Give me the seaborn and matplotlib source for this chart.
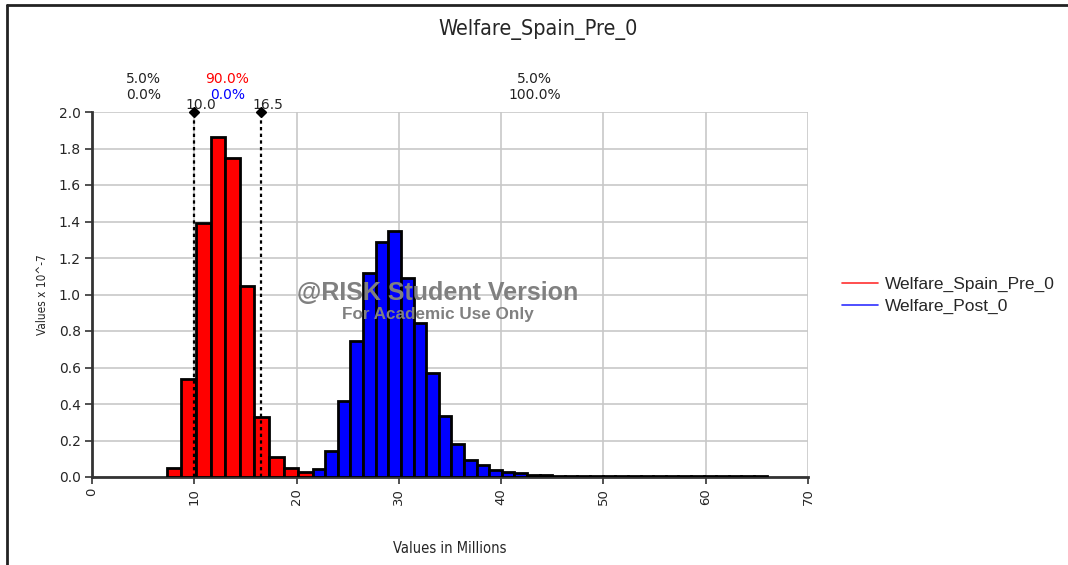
import numpy as np
import pandas as pd
import matplotlib
matplotlib.use("Agg")
import matplotlib.pyplot as plt
from matplotlib.lines import Line2D
import matplotlib.transforms as mtransforms
import seaborn as sns

# ---------------- data ----------------
title = "Welfare_Spain_Pre_0"
series_names = ["Welfare_Spain_Pre_0", "Welfare_Post_0"]

red_bin_start = 7.30
red_bin_width = 1.43
red_heights = [0.048, 0.535, 1.393, 1.865, 1.750, 1.047, 0.330, 0.111, 0.048, 0.028]

blue_bin_start = 21.57
blue_bin_width = 1.233
blue_heights = [0.042, 0.144, 0.416, 0.747, 1.120, 1.286, 1.348, 1.092, 0.842, 0.571,
                0.334, 0.181, 0.093, 0.066, 0.038, 0.026, 0.020, 0.013, 0.010, 0.008,
                0.007, 0.007, 0.006, 0.006, 0.006, 0.005, 0.005, 0.005, 0.005, 0.005,
                0.004, 0.004, 0.004, 0.004, 0.004, 0.004]

marker_values = [10.0, 16.5]
marker_labels = ["10.0", "16.5"]
region_centers = [5.0, 13.25, 43.25]
pct_row1 = ["5.0%", "90.0%", "5.0%"]
pct_row2 = ["0.0%", "0.0%", "100.0%"]

x_ticks = [0, 10, 20, 30, 40, 50, 60, 70]
y_ticks = [0.0, 0.2, 0.4, 0.6, 0.8, 1.0, 1.2, 1.4, 1.6, 1.8, 2.0]

# ---------------- figure ----------------
sns.set_style("white")
plt.rcParams["font.family"] = ["DejaVu Sans"]

W, H = 1068, 565
fig = plt.figure(figsize=(W / 100, H / 100), dpi=100)
ax = fig.add_axes([92 / W, 1 - 477 / H, (808 - 92) / W, (477 - 112) / H])

def hist(start, width, heights, color):
    edges = start + width * np.arange(len(heights) + 1)
    centers = (edges[:-1] + edges[1:]) / 2
    df = pd.DataFrame({"x": centers, "w": heights})
    sns.histplot(data=df, x="x", weights="w", bins=edges.tolist(), stat="count",
                 color=color, alpha=1.0, edgecolor="black", linewidth=2.0,
                 ax=ax, zorder=3)

hist(red_bin_start, red_bin_width, red_heights, "#ff0000")
hist(blue_bin_start, blue_bin_width, blue_heights, "#0000ff")

ax.set_xlim(0, 70)
ax.set_ylim(0, 2.0)
ax.set_xticks(x_ticks)
ax.set_yticks(y_ticks)
ax.set_xticklabels([str(t) for t in x_ticks], rotation=90, fontsize=9.5)
ax.set_yticklabels([f"{t:.1f}" for t in y_ticks], fontsize=10)
ax.grid(True, color="#c8c8c8", linewidth=1.2, zorder=0)
ax.set_axisbelow(True)
for s in ["top", "right"]:
    ax.spines[s].set_visible(False)
for s in ["left", "bottom"]:
    ax.spines[s].set_color("#333333")
    ax.spines[s].set_linewidth(2.0)
ax.tick_params(axis="both", direction="out", length=5, width=1.2, color="#333333",
               pad=3, left=True, bottom=True)

ax.set_xlabel("Values in Millions", fontsize=10.5, fontstretch="condensed", labelpad=26)
ax.set_ylabel("Values x 10^-7", fontsize=8.5, fontstretch="condensed", labelpad=7)
fig.text(538 / W, 1 - 29 / H, title, ha="center", va="center", fontsize=15.5,
         fontstretch="condensed")

# marker lines
for v, lab in zip(marker_values, marker_labels):
    ax.plot([v, v], [0, 2.0], color="black", linestyle=(0, (1.5, 1.5)),
            linewidth=1.6, zorder=5, clip_on=False)
    ax.plot([v], [2.0], marker="D", color="black", markersize=5.5, zorder=6,
            clip_on=False)
    ax.annotate(lab, xy=(v, 2.0), xytext=(5, 5), textcoords="offset points",
                ha="center", va="center", fontsize=10, annotation_clip=False)

trans = mtransforms.blended_transform_factory(ax.transData, ax.transAxes)
row_colors1 = ["#222222", "#ff0000", "#222222"]
row_colors2 = ["#222222", "#0000ff", "#222222"]
for xc, t1, t2, c1, c2 in zip(region_centers, pct_row1, pct_row2, row_colors1, row_colors2):
    ax.text(xc, 1 + 33 / 365, t1, transform=trans, ha="center", va="center",
            fontsize=10, color=c1)
    ax.text(xc, 1 + 17 / 365, t2, transform=trans, ha="center", va="center",
            fontsize=10, color=c2)

# watermark
ax.text(33.8, 1.01, "@RISK Student Version", ha="center", va="center",
        fontsize=18, fontweight="bold", color="#808080", family="Liberation Sans",
        zorder=10)
ax.text(33.8, 0.89, "For Academic Use Only", ha="center", va="center",
        fontsize=12.3, fontweight="bold", color="#808080", family="Liberation Sans",
        zorder=10)

# legend
handles = [Line2D([], [], color="#ff3030", linewidth=1.2),
           Line2D([], [], color="#3030ff", linewidth=1.2)]
fig.legend(handles, series_names, loc="upper left",
           bbox_to_anchor=(842 / W, 1 - 277 / H), frameon=False,
           prop={"family": "Liberation Sans", "size": 12.5},
           handlelength=2.1, handletextpad=0.35, labelspacing=0.38,
           borderpad=0, borderaxespad=0)

# figure frame (top and left)
fig.add_artist(Line2D([7 / W, 1.0], [1 - 4.5 / H, 1 - 4.5 / H], color="#222222",
                      linewidth=2, transform=fig.transFigure))
fig.add_artist(Line2D([7 / W, 7 / W], [0, 1 - 4.5 / H], color="#222222",
                      linewidth=2, transform=fig.transFigure))

fig.savefig("out.png", dpi=100)
